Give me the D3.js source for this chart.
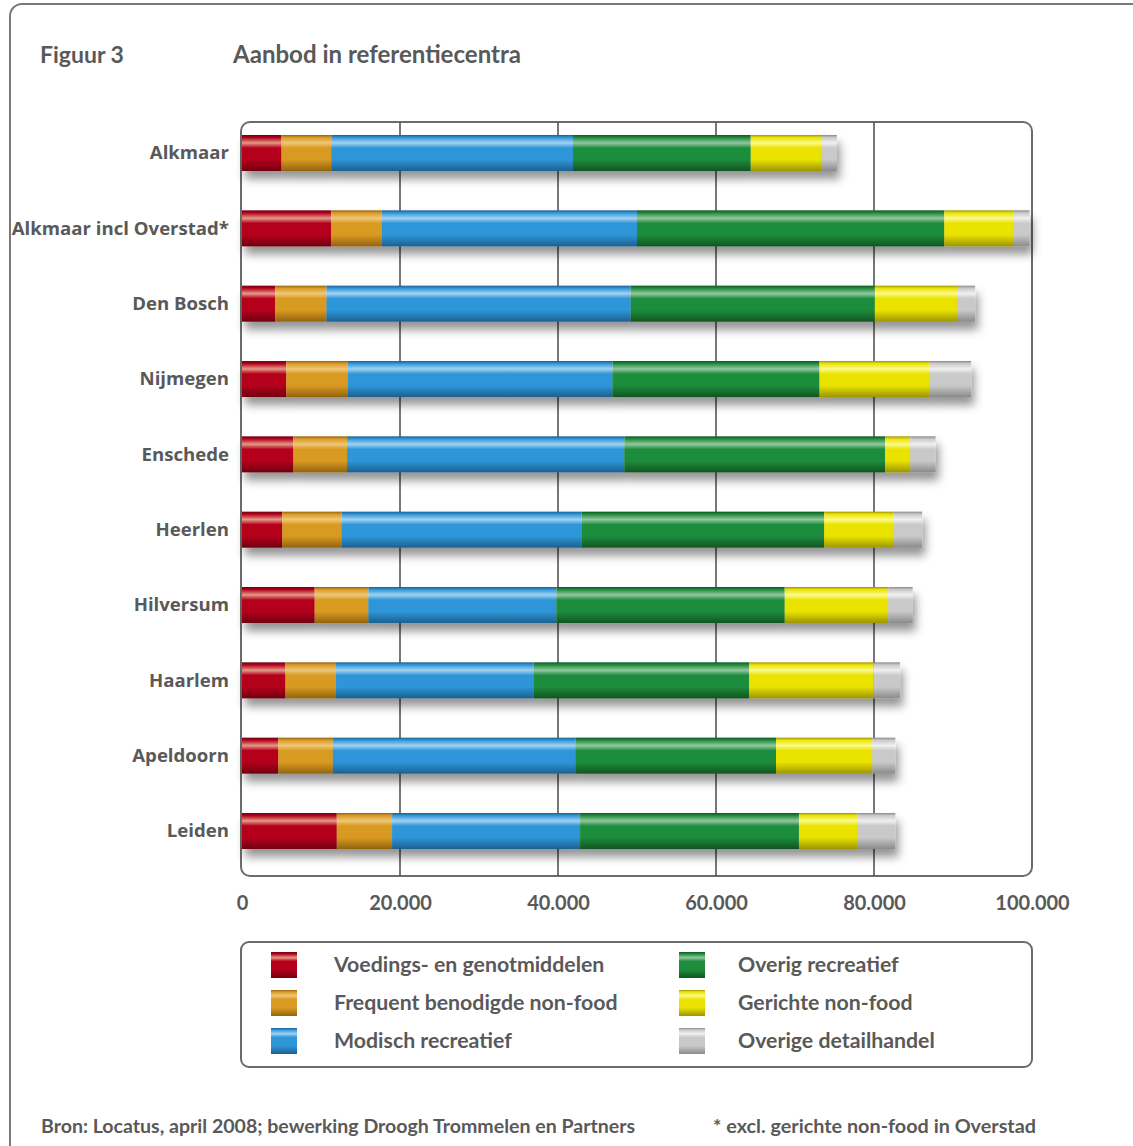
<!DOCTYPE html>
<html>
<head>
<meta charset="utf-8">
<script src="https://cdn.jsdelivr.net/npm/d3@7"></script>
<style>
  body { margin: 0; background: #fff; }
  text { fill: #595959; font-weight: 700; }
</style>
</head>
<body>
<svg id="chart" width="1133" height="1146"></svg>
<script>
// Reference centres (top to bottom)
const centres = ["Alkmaar", "Alkmaar incl Overstad*", "Den Bosch", "Nijmegen", "Enschede",
                 "Heerlen", "Hilversum", "Haarlem", "Apeldoorn", "Leiden"];

// Branch groups, in stacking order
const groups = ["Voedings- en genotmiddelen", "Frequent benodigde non-food", "Modisch recreatief",
                "Overig recreatief", "Gerichte non-food", "Overige detailhandel"];

// Floor area (m² wvo) per branch group, per centre
const voeding  = [5000, 11300, 4200, 5600, 6500, 5100, 9200, 5500, 4600, 12000];
const frequent = [6300, 6400, 6500, 7800, 6800, 7500, 6800, 6400, 6900, 7000];
const modisch  = [30600, 32300, 38500, 33500, 35100, 30400, 23800, 25000, 30700, 23800];
const overigRe = [22500, 38900, 30900, 26200, 33000, 30700, 28900, 27300, 25400, 27700];
const gericht  = [8900, 8800, 10400, 13900, 3200, 8800, 13100, 15700, 12200, 7400];
const overigDh = [2000, 2000, 2300, 5300, 3200, 3600, 3100, 3400, 2900, 4800];

const xTicks = [0, 20000, 40000, 60000, 80000, 100000];

const seriesValues = [voeding, frequent, modisch, overigRe, gericht, overigDh];

// Glossy tube shading per group: [base, highlight, shadow]
const shades = [
  ["#b5001c", "#e39a86", "#700010"],
  ["#d99a22", "#efc779", "#93630d"],
  ["#2f96d8", "#a2d2f2", "#1b6090"],
  ["#1f8c3c", "#93c8a0", "#105520"],
  ["#eae300", "#fbfa8c", "#9c9500"],
  ["#c9c9c9", "#f0f0f0", "#8a8a8a"]
];

const svg = d3.select("#chart");
const font = "'Open Sans', 'DejaVu Sans', sans-serif";
const font2 = "Lato, 'Open Sans', sans-serif";

const defs = svg.append("defs");
shades.forEach((s, i) => {
  const g = defs.append("linearGradient")
    .attr("id", "shade" + i).attr("x1", 0).attr("x2", 0).attr("y1", 0).attr("y2", 1);
  [[0, s[2]], [0.07, s[0]], [0.22, s[1]], [0.36, s[0]], [0.68, s[0]], [1, s[2]]]
    .forEach(([o, c]) => g.append("stop").attr("offset", o).attr("stop-color", c));
});
const shadow = defs.append("filter").attr("id", "shadow")
  .attr("x", "-5%").attr("y", "-40%").attr("width", "115%").attr("height", "220%");
shadow.append("feDropShadow").attr("dx", 3).attr("dy", 8).attr("stdDeviation", 5)
  .attr("flood-color", "#000").attr("flood-opacity", 0.42);

// Outer frame
svg.append("rect").attr("x", 10).attr("y", 4).attr("width", 1150).attr("height", 1170)
  .attr("rx", 12).attr("fill", "none").attr("stroke", "#7a7a7a").attr("stroke-width", 2);

// Heading
svg.append("text").attr("x", 40).attr("y", 63).style("font-family", font2)
  .style("font-size", "23px").text("Figuur 3");
svg.append("text").attr("x", 233).attr("y", 63).style("font-family", font2)
  .style("font-size", "24px").attr("textLength", 288).attr("lengthAdjust", "spacingAndGlyphs")
  .text("Aanbod in referentiecentra");

// Scales
const plot = { left: 241, right: 1032, top: 122, bottom: 876 };
const x = d3.scaleLinear().domain([0, 100000]).range([242, 1032]);
const y = d3.scalePoint().domain(centres).range([153, 831]);
const barH = 36;

// Plot frame and gridlines
svg.append("rect").attr("x", plot.left).attr("y", plot.top)
  .attr("width", plot.right - plot.left).attr("height", plot.bottom - plot.top)
  .attr("rx", 9).attr("fill", "#fff").attr("stroke", "#6b6b6b").attr("stroke-width", 2);
svg.append("g").selectAll("line").data(xTicks.slice(1, -1)).join("line")
  .attr("x1", d => x(d)).attr("x2", d => x(d))
  .attr("y1", plot.top).attr("y2", plot.bottom)
  .attr("stroke", "#555").attr("stroke-width", 1.6);

// Stacked bars
const rows = centres.map((c, i) => {
  const o = { centre: c };
  groups.forEach((g, j) => { o[g] = seriesValues[j][i]; });
  return o;
});
const stacked = d3.stack().keys(groups)(rows);

const barRows = svg.append("g").selectAll("g.row").data(centres).join("g")
  .attr("class", "row").attr("filter", "url(#shadow)");
barRows.each(function (c, i) {
  d3.select(this).selectAll("rect").data(stacked.map(s => s[i])).join("rect")
    .attr("x", d => x(d[0]))
    .attr("width", d => x(d[1]) - x(d[0]))
    .attr("y", y(c) - barH / 2)
    .attr("height", barH)
    .attr("fill", (d, j) => `url(#shade${j})`);
});

// Value axis labels
const fmt = d3.formatLocale({ decimal: ",", thousands: ".", grouping: [3], currency: ["", ""] }).format(",d");
const xAxis = svg.append("g").attr("transform", `translate(0,${plot.bottom})`)
  .call(d3.axisBottom(x).tickValues(xTicks).tickFormat(fmt).tickSize(0).tickPadding(20));
xAxis.select(".domain").remove();
xAxis.selectAll("text").style("font-family", font2).style("font-size", "20px").attr("fill", "#595959");

// Category axis labels
const yAxis = svg.append("g").attr("transform", `translate(${plot.left},0)`)
  .call(d3.axisLeft(y).tickSize(0).tickPadding(12));
yAxis.select(".domain").remove();
yAxis.selectAll("text").style("font-family", font).style("font-size", "18.6px").attr("fill", "#595959");

// Legend
svg.append("rect").attr("x", 241).attr("y", 942).attr("width", 791).attr("height", 125)
  .attr("rx", 8).attr("fill", "#fff").attr("stroke", "#6b6b6b").attr("stroke-width", 2);
const legendCols = [271, 679];
const legendText = [63, 59];
const legendRows = [965, 1003, 1041];
const legend = svg.append("g").selectAll("g").data(groups).join("g")
  .attr("transform", (d, i) => `translate(${legendCols[Math.floor(i / 3)]},${legendRows[i % 3]})`);
legend.append("rect").attr("x", 0).attr("y", -13).attr("width", 26).attr("height", 26)
  .attr("fill", (d, i) => `url(#shade${i})`);
legend.append("text").attr("x", (d, i) => legendText[Math.floor(i / 3)]).attr("y", 7)
  .style("font-family", font2).style("font-size", "21.3px").text(d => d);

// Footnotes
svg.append("text").attr("x", 41).attr("y", 1133).style("font-family", font2)
  .style("font-size", "18px").attr("textLength", 594).attr("lengthAdjust", "spacingAndGlyphs")
  .text("Bron: Locatus, april 2008; bewerking Droogh Trommelen en Partners");
svg.append("text").attr("x", 713).attr("y", 1133).style("font-family", font2)
  .style("font-size", "18px").attr("textLength", 323).attr("lengthAdjust", "spacingAndGlyphs")
  .text("* excl. gerichte non-food in Overstad");
</script>
</body>
</html>
